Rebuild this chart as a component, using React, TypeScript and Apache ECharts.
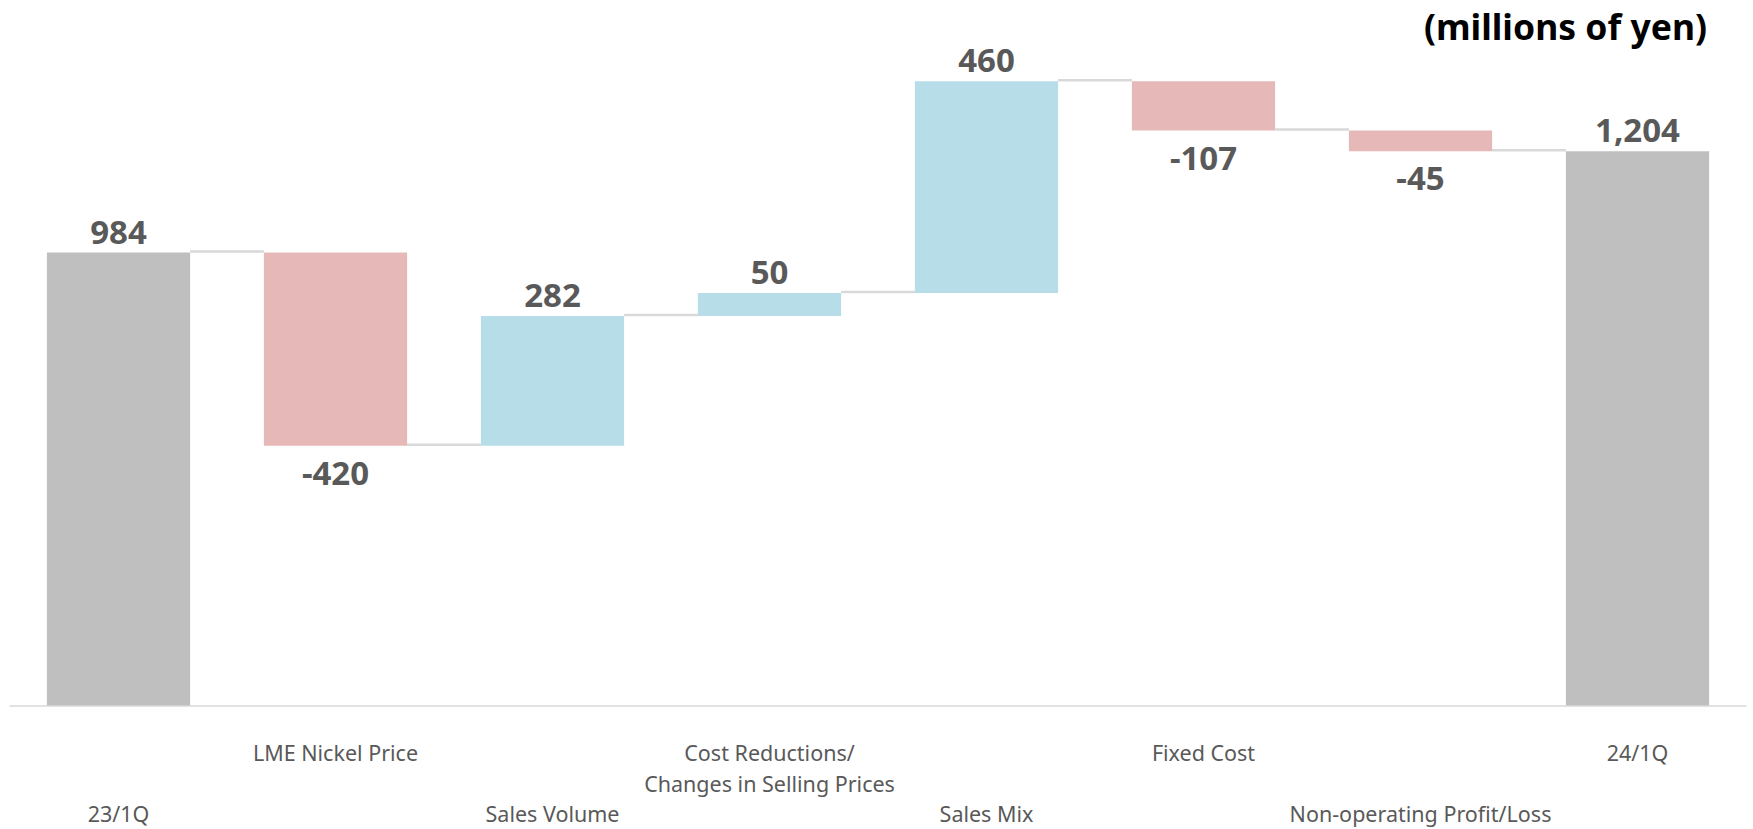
import React, { useEffect, useRef } from "react";
import * as echarts from "echarts";

const categories = [
  "23/1Q",
  "LME Nickel Price",
  "Sales Volume",
  "Cost Reductions/\nChanges in Selling Prices",
  "Sales Mix",
  "Fixed Cost",
  "Non-operating Profit/Loss",
  "24/1Q",
];
// null marks a total bar; numbers are the changes
const startTotal = 984;
const deltas: (number | null)[] = [null, -420, 282, 50, 460, -107, -45, null];
const endTotal = 1204;

const yMin = 0;
const yMax = 1400;

const GRAY = "#BFBFBF";
const RED = "#E6B8B7";
const BLUE = "#B7DDE8";
const FONT = "'Noto Sans', 'Open Sans', sans-serif";

export default function App() {
  const ref = useRef<HTMLDivElement>(null);
  useEffect(() => {
    if (!ref.current) return;
    const chart = echarts.init(ref.current, undefined, { renderer: "svg" });

    const base: number[] = [];
    const vals: any[] = [];
    const levels: number[] = [];
    let running = startTotal;
    deltas.forEach((d, i) => {
      if (d === null) {
        const v = i === 0 ? startTotal : endTotal;
        base.push(0);
        vals.push({
          value: v,
          itemStyle: { color: GRAY },
          label: { position: "top", distance: 5, formatter: v.toLocaleString("en-US") },
        });
        running = v;
      } else {
        const next = running + d;
        base.push(Math.min(running, next));
        vals.push({
          value: Math.abs(d),
          itemStyle: { color: d < 0 ? RED : BLUE },
          label: {
            position: d < 0 ? "bottom" : "top",
            distance: d < 0 ? 10 : 5,
            formatter: String(d),
          },
        });
        running = next;
      }
      levels.push(running);
    });
    const connectors = levels.slice(0, -1).map((l, i) => [i, l]);

    chart.setOption({
      animation: false,
      title: {
        text: "(millions of yen)",
        right: 41,
        top: 3,
        textStyle: { fontFamily: FONT, fontWeight: "bold", fontSize: 35.5, color: "#000" },
      },
      grid: { left: 10, right: 7, top: 61, bottom: 119, containLabel: false },
      xAxis: {
        type: "category",
        data: categories,
        axisLine: { lineStyle: { color: "#D9D9D9", width: 1.5 } },
        axisTick: { show: false },
        axisLabel: {
          interval: 0,
          margin: 32,
          fontFamily: FONT,
          fontSize: 21.5,
          lineHeight: 30.5,
          color: "#595959",
          formatter: (v: string, i: number) => (i % 2 === 0 ? "\n\n" + v : v),
        },
      },
      yAxis: {
        type: "value",
        min: yMin,
        max: yMax,
        show: false,
        splitLine: { show: false },
      },
      series: [
        {
          type: "bar",
          stack: "w",
          data: base,
          barWidth: "66%",
          itemStyle: { color: "transparent" },
          silent: true,
        },
        {
          type: "bar",
          stack: "w",
          data: vals,
          barWidth: "66%",
          label: {
            show: true,
            fontFamily: FONT,
            fontWeight: "bold",
            fontSize: 33,
            color: "#595959",
          },
        },
        {
          type: "custom",
          data: connectors,
          z: 1,
          renderItem: (params: any, api: any) => {
            const p = api.coord([api.value(0), api.value(1)]);
            const band = api.size([1, 0])[0];
            return {
              type: "line",
              shape: { x1: p[0] + band * 0.33, y1: p[1] - 1, x2: p[0] + band * 0.67, y2: p[1] - 1 },
              style: { stroke: "#D9D9D9", lineWidth: 2.5 },
            };
          },
        },
      ],
    });
    return () => chart.dispose();
  }, []);
  return (
    <div
      ref={ref}
      style={{ position: "fixed", left: 0, top: 0, width: 1753, height: 829, background: "#fff" }}
    />
  );
}
